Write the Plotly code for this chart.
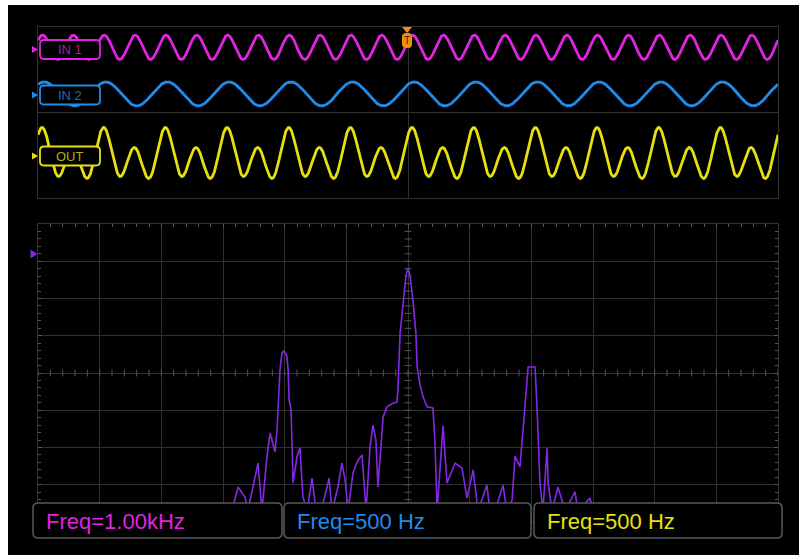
import numpy as np
import plotly.graph_objects as go

W, H = 799, 555

# ---------------- data ----------------
# time-domain channels (read from the screen): frequency (kHz), amplitude (div), offset (div), time of a peak (ms)
channels = ["IN 1", "IN 2", "OUT"]
chan_freq_khz = [1.0, 0.5, 0.5]
chan_amp_div = [0.57, 0.56, 0.47]
chan_offset_div = [3.05, 0.87, -2.09]
chan_peak_ms = [0.15, 0.20, 0.16]
# OUT also carries a 1 kHz component
out_h2_amp_div = 0.92
out_h2_phase = 0.2

# FFT trace (Hz, dB)
fft_freq = [786, 811, 839, 851, 880, 892, 908, 928, 941, 961, 969, 977, 981, 989, 997,
            1009, 1014, 1018, 1026, 1034, 1050, 1062, 1074, 1091, 1111, 1127, 1147, 1172,
            1180, 1192, 1216, 1232, 1245, 1257, 1277, 1297, 1314, 1330, 1346, 1358, 1370,
            1378, 1387, 1399, 1415, 1439, 1455, 1459, 1468, 1480, 1492, 1500, 1508, 1520,
            1532, 1537, 1549, 1561, 1577, 1601, 1609, 1618, 1642, 1658, 1691, 1719, 1739,
            1764, 1784, 1820, 1832, 1853, 1885, 1901, 1922, 1934, 1954, 1974, 1987, 2015,
            2023, 2035, 2047, 2064, 2068, 2084, 2108, 2137, 2177, 2189, 2238, 2250]
fft_db = [-77.0, -70.6, -73.3, -77.0, -67.9, -64.2, -77.0, -62.5, -56.1, -61.2, -55.3, -44.6,
          -39.2, -34.6, -34.1, -35.4, -39.2, -47.2, -49.9, -69.5, -62.5, -60.1, -73.3, -77.0,
          -68.2, -77.0, -77.0, -70.6, -68.2, -77.0, -70.6, -64.2, -68.7, -77.0, -66.8, -63.4,
          -62.0, -77.0, -59.9, -54.0, -58.0, -70.6, -62.5, -51.8, -49.1, -48.1, -47.8, -44.6,
          -29.3, -20.4, -13.7, -11.8, -13.7, -20.4, -29.3, -38.4, -43.2, -46.4, -49.1, -49.4,
          -58.0, -77.0, -54.2, -69.5, -64.2, -65.5, -73.6, -66.0, -77.0, -70.1, -77.0, -77.0,
          -70.1, -77.0, -74.1, -62.3, -65.2, -49.1, -38.4, -38.4, -49.1, -69.5, -77.0, -60.1,
          -69.5, -77.0, -70.6, -77.0, -71.9, -77.0, -73.6, -77.0]

meas_labels = ["Freq=1.00kHz", "Freq=500 Hz", "Freq=500 Hz"]

# ---------------- style ----------------
chan_colors = ["#e024e0", "#1f8cec", "#e6e010"]
chan_text_colors = ["#a020a0", "#1a6cb8", "#b0b010"]
fft_color = "#8428e6"
grid_col = "#303030"
tick_col = "#555555"


def fx(x):
    return x / W


def fy(y):
    return 1 - y / H


def rrect(x0, y0, x1, y1, r):
    pts = lambda x, y: f"{fx(x):.5f},{fy(y):.5f}"
    return ("M " + pts(x0 + r, y0) + " L " + pts(x1 - r, y0) + " Q " + pts(x1, y0) + " " + pts(x1, y0 + r)
            + " L " + pts(x1, y1 - r) + " Q " + pts(x1, y1) + " " + pts(x1 - r, y1)
            + " L " + pts(x0 + r, y1) + " Q " + pts(x0, y1) + " " + pts(x0, y1 - r)
            + " L " + pts(x0, y0 + r) + " Q " + pts(x0, y0) + " " + pts(x0 + r, y0) + " Z")


def tri(x, y, s):
    return (f"M {fx(x - s * 0.5):.5f},{fy(y - s * 0.6):.5f} L {fx(x + s * 0.5):.5f},{fy(y):.5f} "
            f"L {fx(x - s * 0.5):.5f},{fy(y + s * 0.6):.5f} Z")


fig = go.Figure()

# time-domain traces
t = np.linspace(-12, 12, 3000)
for i, name in enumerate(channels):
    w = 2 * np.pi * chan_freq_khz[i]
    y = chan_offset_div[i] + chan_amp_div[i] * np.cos(w * (t - chan_peak_ms[i]))
    if name == "OUT":
        y = y + out_h2_amp_div * np.cos(2 * w * (t - chan_peak_ms[i]) + out_h2_phase)
    fig.add_trace(go.Scatter(x=t, y=y, mode="lines", line=dict(color=chan_colors[i], width=2.8),
                             xaxis="x", yaxis="y", showlegend=False, hoverinfo="skip"))

# FFT trace
fig.add_trace(go.Scatter(x=fft_freq, y=fft_db, mode="lines", line=dict(color=fft_color, width=1.6),
                         xaxis="x2", yaxis="y2", showlegend=False, hoverinfo="skip"))

# minor ticks on centre lines of the FFT grid
hx = np.arange(0, 3001, 50)
fig.add_trace(go.Scatter(x=hx, y=[-40] * len(hx), mode="markers", xaxis="x2", yaxis="y2",
                         marker=dict(symbol="line-ns", size=5, line=dict(color=tick_col, width=1)),
                         showlegend=False, hoverinfo="skip"))
vy = np.arange(-80, 1, 2)
fig.add_trace(go.Scatter(x=[1500] * len(vy), y=vy, mode="markers", xaxis="x2", yaxis="y2",
                         marker=dict(symbol="line-ew", size=5, line=dict(color=tick_col, width=1)),
                         showlegend=False, hoverinfo="skip"))

shapes = []
# black screen area
shapes.append(dict(type="rect", xref="paper", yref="paper", x0=fx(8), x1=1, y0=0, y1=fy(5),
                   fillcolor="black", line=dict(width=0), layer="below"))

# channel label boxes
label_y = [49.5, 95, 156]
for i, name in enumerate(channels):
    yc = label_y[i]
    shapes.append(dict(type="path", xref="paper", yref="paper", path=rrect(40, yc - 9.5, 100, yc + 9.5, 4),
                       fillcolor="black", line=dict(color=chan_colors[i], width=1.8), layer="above"))
    shapes.append(dict(type="path", xref="paper", yref="paper", path=tri(35, yc, 6),
                       fillcolor=chan_colors[i], line=dict(width=0), layer="above"))
    fig.add_annotation(x=fx(70), y=fy(yc), xref="paper", yref="paper", text=name, showarrow=False,
                       font=dict(family="Liberation Sans", size=13, color=chan_text_colors[i]),
                       xanchor="center", yanchor="middle")

# FFT reference marker
shapes.append(dict(type="path", xref="paper", yref="paper", path=tri(34, 254, 7),
                   fillcolor=fft_color, line=dict(width=0), layer="above"))

# trigger marker
shapes.append(dict(type="path", xref="paper", yref="paper",
                   path=f"M {fx(402):.5f},{fy(27):.5f} L {fx(412):.5f},{fy(27):.5f} L {fx(407):.5f},{fy(33):.5f} Z",
                   fillcolor="#f08c10", line=dict(width=0), layer="above"))
shapes.append(dict(type="path", xref="paper", yref="paper", path=rrect(402, 33, 412, 48, 4),
                   fillcolor="#f08c10", line=dict(width=0), layer="above"))
fig.add_annotation(x=fx(407), y=fy(40), xref="paper", yref="paper", text="T", showarrow=False,
                   font=dict(family="Liberation Sans", size=10, color="#402000"),
                   xanchor="center", yanchor="middle")

# measurement boxes
box_x = [(33, 282), (284, 531), (534, 782)]
for i, lab in enumerate(meas_labels):
    x0, x1 = box_x[i]
    shapes.append(dict(type="path", xref="paper", yref="paper", path=rrect(x0, 503, x1, 538, 5),
                       fillcolor="black", line=dict(color="#5a5a5a", width=1.5), layer="above"))
    fig.add_annotation(x=fx(x0 + 11), y=fy(521), xref="paper", yref="paper", text=lab, showarrow=False,
                       font=dict(family="Liberation Sans", size=22, color=chan_colors[i]),
                       xanchor="left", yanchor="middle")

fig.update_layout(
    width=W, height=H, autosize=False,
    margin=dict(l=0, r=0, t=0, b=0),
    paper_bgcolor="white", plot_bgcolor="rgba(0,0,0,0)",
    shapes=shapes,
    xaxis=dict(domain=[fx(38), fx(778)], range=[-12, 12], showgrid=False, zeroline=True,
               zerolinecolor=grid_col, zerolinewidth=1, showticklabels=False, showline=True,
               mirror=True, linecolor=grid_col, linewidth=1, ticks="", fixedrange=True),
    yaxis=dict(domain=[fy(198), fy(27)], range=[-4, 4], showgrid=False, zeroline=True,
               zerolinecolor=grid_col, zerolinewidth=1, showticklabels=False, showline=True,
               mirror=True, linecolor=grid_col, linewidth=1, ticks="", fixedrange=True),
    xaxis2=dict(domain=[fx(38), fx(778)], range=[0, 3000], anchor="y2", dtick=250, showgrid=True,
                gridcolor=grid_col, gridwidth=1, zeroline=False, showticklabels=False, showline=True,
                mirror="ticks", linecolor=grid_col, ticks="inside", ticklen=4, tickcolor=tick_col,
                minor=dict(dtick=50, ticks="inside", ticklen=3, tickcolor=tick_col, showgrid=False),
                fixedrange=True),
    yaxis2=dict(domain=[fy(522), fy(224)], range=[-80, 0], anchor="x2", dtick=10, showgrid=True,
                gridcolor=grid_col, gridwidth=1, zeroline=False, showticklabels=False, showline=True,
                mirror="ticks", linecolor=grid_col, ticks="inside", ticklen=4, tickcolor=tick_col,
                minor=dict(dtick=2, ticks="inside", ticklen=3, tickcolor=tick_col, showgrid=False),
                fixedrange=True),
)

fig.write_html("out.html")
